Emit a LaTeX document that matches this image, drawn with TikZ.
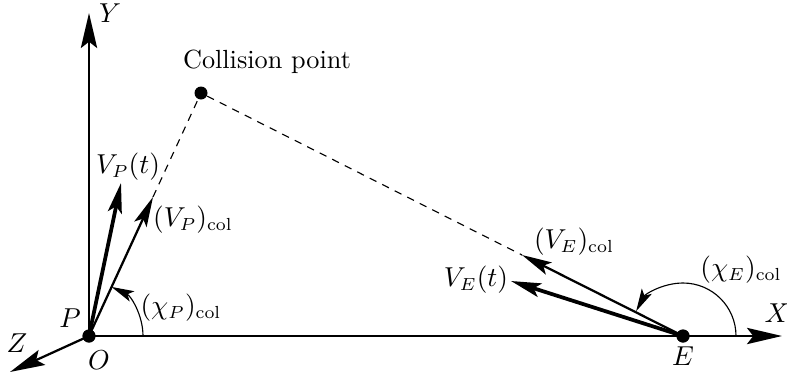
\documentclass[tikz,border=0pt]{standalone}
\usetikzlibrary{arrows.meta,calc}
\begin{document}
\begin{tikzpicture}[x=0.4pt,y=-0.4pt,
  axis/.style={line width=0.9pt,-{Stealth[length=14pt,width=6.5pt,inset=2.5pt]}},
  vthick/.style={line width=1.5pt,-{Stealth[length=12pt,width=5.6pt,inset=2.5pt]}},
  vthin/.style={line width=0.9pt,-{Stealth[length=12pt,width=5.4pt,inset=2.5pt]}},
  anglearc/.style={line width=0.45pt,-{Stealth[length=9pt,width=4.5pt,inset=2pt]}},
  dashline/.style={line width=0.45pt,dash pattern=on 3pt off 2.6pt},
  dot/.style={circle,fill=black,inner sep=0pt,minimum size=#1},
  lab/.style={inner sep=0pt,font=\fontsize{10.5}{12}\selectfont}]
\useasboundingbox (0,0) rectangle (787,374);
% points
\node[dot=5.2pt] (O) at (89,336) {};
\node[dot=5.2pt] (E) at (683,336) {};
\node[dot=5.2pt] (C) at (201,93) {};
\coordinate (Xtip) at (782,336);
\coordinate (Ytip) at (89,13);
\coordinate (Ztip) at (10,372);
\coordinate (VPt) at (121,183);
\coordinate (VPc) at (153,197);
\coordinate (VEt) at (511,281);
\coordinate (VEc) at (522,255);
\coordinate (arcP) at (143,336);
\coordinate (arcE) at (736,336);
% axes
\draw[axis] (O.center) -- (Xtip);
\draw[axis] (O.center) -- (Ytip);
\draw[axis] (O.center) -- (Ztip);
% dashed lines
\draw[dashline] (VPc) -- (C) -- (VEc);
% velocity vectors
\draw[vthick] (O.center) -- (VPt);
\draw[vthin] (O.center) -- (VPc);
\draw[vthick] (E.center) -- (VEt);
\draw[vthin] (E.center) -- (VEc);
% angle arcs
\draw[anglearc] (arcP) arc[start angle=0,end angle=65.3,radius=21.6pt];
\draw[anglearc] (arcE) arc[start angle=0,end angle=152,radius=21.2pt];
% redraw dots on top
\fill (O) circle[radius=2.6pt];
\fill (E) circle[radius=2.6pt];
% labels
\node[lab] (lY) at (110,13) {$Y$};
\node[lab] (lX) at (777,313) {$X$};
\node[lab] (lZ) at (17,343) {$Z$};
\node[lab] (lP) at (70,318) {$P$};
\node[lab] (lO) at (99,360) {$O$};
\node[lab] (lE) at (683,356) {$E$};
\node[lab] (lC) at (267,62) {Collision point};
\node[lab] (lVPt) at (128,167) {$V_P(t)$};
\node[lab] (lVPc) at (193,220) {$(V_P)_{\mathrm{col}}$};
\node[lab] (lchiP) at (181,308) {$(\chi_P)_{\mathrm{col}}$};
\node[lab] (lVEt) at (476,280) {$V_E(t)$};
\node[lab] (lVEc) at (574,242) {$(V_E)_{\mathrm{col}}$};
\node[lab] (lchiE) at (741,270) {$(\chi_E)_{\mathrm{col}}$};
\end{tikzpicture}
\end{document}
